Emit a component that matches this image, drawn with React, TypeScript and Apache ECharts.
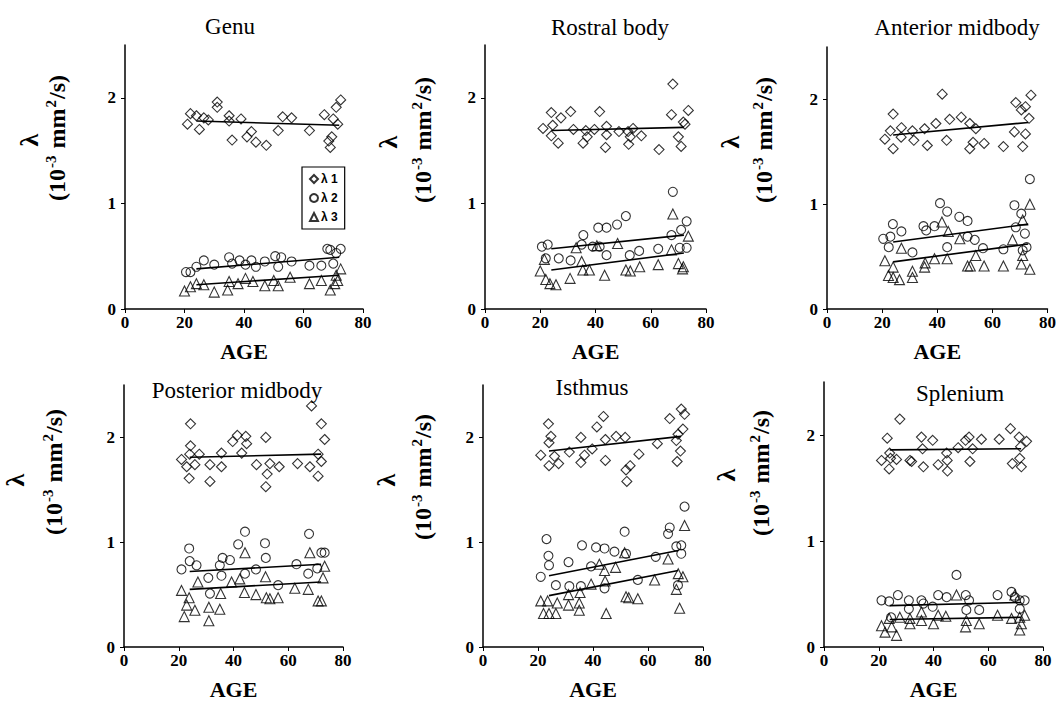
import React, { useEffect, useRef } from "react";
import * as echarts from "echarts";

// ---------- Data (age, λ in 10^-3 mm^2/s) ----------
const X_TICKS = [0, 20, 40, 60, 80];
const Y_TICKS = [0, 1, 2];
const LEGEND_NAMES = ["λ 1", "λ 2", "λ 3"];
const TITLES = ["Genu", "Rostral body", "Anterior midbody", "Posterior midbody", "Isthmus", "Splenium"];

const genuL1 = [[21,1.75],[22,1.85],[24,1.83],[25,1.7],[26.5,1.81],[28,1.79],[31,1.96],[31,1.91],[35,1.83],[35,1.78],[36,1.6],[39,1.8],[41,1.63],[42.5,1.68],[44,1.58],[47.5,1.55],[51.5,1.69],[53,1.82],[56,1.81],[62,1.69],[67,1.84],[68.5,1.59],[69,1.53],[69.5,1.63],[70,1.8],[71,1.91],[71.5,1.75],[72.5,1.98]];
const genuL2 = [[20.5,0.35],[22,0.35],[24,0.4],[26.5,0.46],[30,0.42],[35,0.49],[36,0.43],[38.5,0.46],[40.5,0.42],[42.5,0.46],[44,0.4],[47,0.45],[50.5,0.5],[51.5,0.4],[52.5,0.49],[56,0.45],[62,0.41],[66,0.41],[68,0.57],[69,0.56],[70,0.43],[71,0.53],[72.5,0.57]];
const genuL3 = [[20,0.17],[22,0.21],[24,0.24],[26.5,0.23],[30,0.16],[34.5,0.18],[35,0.26],[38,0.24],[40.5,0.29],[43,0.26],[47,0.22],[50,0.27],[51.5,0.22],[55.5,0.3],[62,0.24],[66,0.27],[69,0.18],[70.5,0.24],[71,0.32],[71.5,0.27],[72.5,0.38]];
const genuFit = [[[24,1.78],[72,1.74]],[[24,0.38],[72,0.49]],[[24,0.23],[72,0.32]]];

const rostralL1 = [[21,1.71],[24,1.86],[24,1.64],[24.5,1.74],[26.5,1.57],[27.5,1.81],[31,1.87],[32,1.7],[35.5,1.57],[36.5,1.69],[37,1.63],[39.6,1.7],[41.5,1.87],[43.6,1.53],[44,1.73],[44,1.65],[48.5,1.68],[51.8,1.68],[52,1.56],[52.6,1.63],[53.6,1.71],[56.6,1.64],[63,1.51],[67.5,1.84],[68,2.13],[70,1.63],[71,1.54],[71.8,1.77],[72.4,1.75],[73.6,1.88]];
const rostralL2 = [[20.6,0.59],[22,0.48],[22.7,0.61],[26.7,0.48],[31,0.46],[35,0.61],[35.6,0.7],[39,0.59],[41,0.77],[41.5,0.59],[44,0.77],[44,0.51],[47.8,0.8],[51,0.88],[52.4,0.51],[55.8,0.55],[62.7,0.57],[67.5,0.7],[68,1.11],[70.5,0.58],[71,0.75],[73,0.83],[73,0.58]];
const rostralL3 = [[20,0.36],[21.5,0.47],[22,0.28],[23.5,0.24],[25.7,0.23],[30.8,0.29],[33,0.58],[35,0.45],[35.4,0.37],[37.8,0.37],[40.5,0.6],[43.3,0.32],[48,0.62],[51,0.37],[52.6,0.36],[56,0.4],[62.7,0.42],[67.5,0.56],[68,0.9],[70,0.43],[71.5,0.38],[71.8,0.4],[73.6,0.69]];
const rostralFit = [[[24,1.69],[72,1.72]],[[24,0.57],[72,0.7]],[[24,0.37],[72,0.53]]];

const anteriorL1 = [[21,1.62],[23,1.7],[24,1.86],[24,1.53],[26.9,1.64],[27,1.73],[31,1.7],[31.5,1.61],[35.4,1.72],[36.4,1.56],[39.5,1.77],[41.8,2.05],[43.4,1.61],[44.5,1.81],[48.7,1.83],[51.8,1.77],[51.8,1.53],[53,1.59],[54,1.72],[57,1.58],[64,1.55],[68,1.69],[68.5,1.97],[70.5,1.9],[71,1.55],[72,1.93],[72,1.67],[73.3,1.82],[74,2.04]];
const anteriorL2 = [[20.4,0.67],[22.4,0.59],[23,0.69],[23.9,0.81],[27,0.74],[31,0.54],[35,0.79],[36,0.75],[39,0.79],[41,1.01],[43.6,0.93],[43.6,0.59],[48,0.88],[51,0.84],[51,0.69],[53.6,0.66],[56.6,0.58],[64,0.57],[68,0.99],[68.5,0.78],[70.5,0.91],[71,0.56],[71.8,0.72],[72.4,0.59],[73.6,1.24]];
const anteriorL3 = [[21,0.46],[22.3,0.32],[24,0.4],[24,0.3],[26.3,0.28],[27,0.58],[31,0.3],[31,0.36],[35.4,0.4],[35.6,0.44],[39,0.48],[41.7,0.83],[43.6,0.48],[44,0.74],[48.2,0.67],[51,0.41],[52,0.41],[54,0.51],[57,0.41],[64,0.41],[67.3,0.66],[70.5,0.43],[71,0.51],[71,0.85],[73.6,0.38],[73.6,1.0]];
const anteriorFit = [[[24,1.66],[73,1.78]],[[24,0.64],[73,0.81]],[[24,0.45],[73,0.62]]];

const posteriorL1 = [[21,1.79],[22.9,1.72],[23.8,1.61],[24,1.84],[24.3,2.13],[24.3,1.92],[25.9,1.74],[27.5,1.84],[31.4,1.74],[31.4,1.58],[35.6,1.85],[35.6,1.72],[39.7,1.96],[41.4,2.02],[43,1.85],[44.5,2.01],[44.8,1.94],[48.4,1.74],[51.8,2.0],[51.8,1.53],[52.3,1.65],[53.3,1.75],[56.7,1.72],[63.4,1.75],[67.9,1.72],[68.5,2.3],[70.9,1.63],[70.9,1.84],[72.1,2.13],[72.1,1.77],[73.3,1.98]];
const posteriorL2 = [[21,0.74],[23.8,0.94],[24,0.82],[26.5,0.78],[30.8,0.66],[31.4,0.51],[35,0.78],[35.6,0.68],[36,0.85],[38.7,0.83],[41.7,0.98],[44.2,1.1],[44.2,0.7],[48.2,0.74],[51.5,0.99],[51.8,0.85],[56.3,0.59],[63,0.79],[67.3,0.7],[67.6,1.08],[70.6,0.75],[72.1,0.9],[73.3,0.9]];
const posteriorL3 = [[21,0.54],[22,0.29],[22.9,0.4],[23.8,0.47],[25.9,0.35],[27,0.62],[31,0.38],[31,0.25],[35,0.36],[35.3,0.51],[39.3,0.62],[42.3,0.65],[44,0.52],[44.2,0.9],[48.2,0.5],[51.7,0.67],[52,0.47],[53.3,0.46],[56.3,0.47],[62.4,0.56],[67.3,0.55],[67.9,0.9],[70.9,0.44],[72.1,0.44],[72.7,0.66],[73.3,0.77]];
const posteriorFit = [[[24,1.81],[72,1.84]],[[24,0.72],[72,0.79]],[[24,0.55],[72,0.62]]];

const isthmusL1 = [[21,1.83],[23.8,2.13],[24,1.95],[24,1.73],[24.7,2.01],[26,1.82],[27.5,1.75],[31.4,1.86],[35.6,2.0],[35.6,1.76],[36.9,1.83],[39.7,1.89],[41.4,2.1],[43.8,2.2],[44.5,1.98],[44.5,1.78],[48.4,2.01],[51.7,2.0],[52,1.69],[52.3,1.58],[53.5,1.73],[56.7,1.84],[63.4,1.94],[67.9,2.18],[70.3,1.97],[70.6,1.77],[70.9,2.03],[71.8,1.87],[72.1,2.27],[72.7,2.08],[73.3,2.22]];
const isthmusL2 = [[21,0.67],[23.1,1.03],[23.8,0.87],[24,0.78],[26.5,0.59],[31.1,0.81],[31.4,0.58],[35.6,0.58],[36,0.97],[39.3,0.77],[41.1,0.95],[44.2,0.94],[44.2,0.56],[47.8,0.91],[51.5,1.1],[52,0.89],[56.3,0.64],[62.8,0.86],[67.3,1.08],[67.9,1.14],[70.3,0.96],[70.9,0.59],[72.1,0.97],[72.1,0.89],[73.3,1.34]];
const isthmusL3 = [[21,0.44],[22,0.32],[23.5,0.44],[24,0.32],[26.5,0.32],[27,0.42],[31.1,0.4],[31.1,0.5],[35,0.42],[35,0.35],[35.3,0.52],[39.3,0.6],[42.3,0.79],[44.2,0.73],[44.4,0.63],[44.8,0.32],[48.2,0.76],[51.5,0.9],[52,0.48],[53,0.47],[56.3,0.46],[62.4,0.64],[67.3,0.84],[70.3,0.55],[71,0.7],[71.5,0.37],[72.7,0.67],[73.3,1.16]];
const isthmusFit = [[[24,1.87],[72,2.01]],[[24,0.68],[71,0.92]],[[24,0.49],[71,0.73]]];

const spleniumL1 = [[21,1.76],[23.1,1.97],[23.8,1.68],[24,1.83],[24.3,1.78],[26.5,1.77],[27.7,2.15],[31.4,1.76],[32,1.75],[35.6,1.98],[36,1.87],[36.3,1.7],[39.7,1.95],[41.7,1.72],[44.8,1.83],[45,1.76],[45.1,1.66],[49,1.88],[51.7,1.95],[53,1.98],[53.3,1.75],[54.3,1.87],[57.5,1.96],[64,1.96],[68.1,2.06],[68.8,1.73],[71.3,1.98],[71.5,1.78],[71.8,1.89],[72.1,1.7],[74,1.94]];
const spleniumL2 = [[21,0.44],[23.8,0.43],[24.5,0.28],[27,0.49],[31,0.44],[31,0.36],[35.6,0.44],[36.3,0.41],[39.7,0.38],[41.7,0.49],[44.8,0.47],[48.4,0.68],[51.8,0.49],[52,0.35],[53,0.44],[56.7,0.35],[63.4,0.49],[68.5,0.52],[69.7,0.47],[71.5,0.44],[71.5,0.36],[73.3,0.44]];
const spleniumL3 = [[21,0.2],[22.3,0.14],[23.8,0.27],[24.7,0.19],[26.5,0.11],[27.7,0.28],[31.4,0.22],[31.4,0.27],[35.6,0.25],[35.6,0.33],[40,0.22],[41.7,0.3],[44.5,0.29],[48.4,0.49],[51.7,0.19],[52,0.25],[56.7,0.22],[63.4,0.3],[68.5,0.27],[69.7,0.49],[71.5,0.16],[71.5,0.28],[72.1,0.22],[73.3,0.3]];
const spleniumFit = [[[24,1.86],[72,1.87]],[[24,0.39],[72,0.42]],[[24,0.26],[72,0.28]]];

// ---------- Layout / style ----------
const SERIF = "'Liberation Serif', 'Times New Roman', serif";
const panels = [
  { title: TITLES[0], l: [genuL1, genuL2, genuL3], fit: genuFit, grid: { left: 125, top: 45, width: 238, height: 264 }, tp: [230, 26], lam: [29, 140], unit: [56, 138] },
  { title: TITLES[1], l: [rostralL1, rostralL2, rostralL3], fit: rostralFit, grid: { left: 485, top: 45, width: 221, height: 264 }, tp: [610, 27], lam: [388, 142], unit: [422, 140] },
  { title: TITLES[2], l: [anteriorL1, anteriorL2, anteriorL3], fit: anteriorFit, grid: { left: 827, top: 47, width: 221, height: 262 }, tp: [957, 27], lam: [730, 142], unit: [763, 140] },
  { title: TITLES[3], l: [posteriorL1, posteriorL2, posteriorL3], fit: posteriorFit, grid: { left: 124, top: 385, width: 219, height: 265 }, tp: [237, 390], lam: [15, 480], unit: [53, 472] },
  { title: TITLES[4], l: [isthmusL1, isthmusL2, isthmusL3], fit: isthmusFit, grid: { left: 483, top: 385, width: 220, height: 265 }, tp: [592, 387], lam: [386, 480], unit: [422, 477] },
  { title: TITLES[5], l: [spleniumL1, spleniumL2, spleniumL3], fit: spleniumFit, grid: { left: 824, top: 382, width: 219, height: 265 }, tp: [960, 393], lam: [726, 475], unit: [760, 473] },
];
const SYMBOLS = ["diamond", "circle", "triangle"];
const SYMBOL_SIZES = [10, 9, 10];

export default function App() {
  const ref = useRef<HTMLDivElement>(null);
  useEffect(() => {
    if (!ref.current) return;
    const chart = echarts.init(ref.current, undefined, { renderer: "svg" });
    const grid: any[] = [];
    const xAxis: any[] = [];
    const yAxis: any[] = [];
    const series: any[] = [];
    const graphic: any[] = [];
    panels.forEach((p, i) => {
      grid.push({ ...p.grid, containLabel: false });
      xAxis.push({
        gridIndex: i, type: "value", min: X_TICKS[0], max: X_TICKS[X_TICKS.length - 1], interval: 20,
        name: "AGE", nameLocation: "middle", nameGap: 31,
        nameTextStyle: { fontFamily: SERIF, fontWeight: "bold", fontSize: 22, color: "#000" },
        axisLine: { onZero: false, lineStyle: { color: "#000", width: 1.5 } },
        axisTick: { show: true, length: 4, lineStyle: { color: "#000" } },
        axisLabel: { fontFamily: SERIF, fontWeight: "bold", fontSize: 17, color: "#000", margin: 5 },
        splitLine: { show: false },
      });
      yAxis.push({
        gridIndex: i, type: "value", min: 0, max: 2.5, interval: 1,
        axisLine: { show: true, onZero: false, lineStyle: { color: "#000", width: 1.5 } },
        axisTick: { show: true, length: 4, customValues: Y_TICKS, lineStyle: { color: "#000" } },
        axisLabel: { fontFamily: SERIF, fontWeight: "bold", fontSize: 17, color: "#000", margin: 9, customValues: Y_TICKS },
        splitLine: { show: false },
      });
      p.l.forEach((d, k) => {
        series.push({
          type: "scatter", name: LEGEND_NAMES[k], xAxisIndex: i, yAxisIndex: i, data: d,
          symbol: SYMBOLS[k], symbolSize: SYMBOL_SIZES[k],
          itemStyle: { color: "rgba(255,255,255,0)", borderColor: "#000", borderWidth: 1.1 },
          z: 3,
        });
      });
      p.fit.forEach((f) => {
        series.push({
          type: "line", name: "fit", xAxisIndex: i, yAxisIndex: i, data: f,
          symbol: "none", lineStyle: { color: "#000", width: 1.6 }, z: 4, silent: true,
        });
      });
      graphic.push({
        type: "text", x: p.tp[0], y: p.tp[1], z: 10,
        style: { text: p.title, font: `normal 23px ${SERIF}`, fill: "#000", textAlign: "center", textVerticalAlign: "middle" },
      });
      graphic.push({
        type: "text", x: p.lam[0], y: p.lam[1], rotation: Math.PI / 2,
        style: { text: "λ", font: `bold 26px ${SERIF}`, fill: "#000", textAlign: "center", textVerticalAlign: "middle" },
      });
      graphic.push({
        type: "text", x: p.unit[0], y: p.unit[1], rotation: Math.PI / 2,
        style: {
          text: "{n|(10}{s|-3}{n| mm}{s|2}{n|/s)}",
          fill: "#000", textAlign: "center", textVerticalAlign: "middle",
          rich: {
            n: { fontFamily: SERIF, fontWeight: "bold", fontSize: 24, lineHeight: 26, verticalAlign: "bottom", fill: "#000" },
            s: { fontFamily: SERIF, fontWeight: "bold", fontSize: 15, lineHeight: 26, verticalAlign: "top", fill: "#000", padding: [0, 1, 0, 1] },
          },
        },
      });
    });
    chart.setOption({
      animation: false,
      backgroundColor: "#fff",
      grid, xAxis, yAxis, series, graphic,
      legend: {
        data: LEGEND_NAMES, orient: "vertical", left: 302, top: 167,
        borderColor: "#000", borderWidth: 1.2, padding: [6, 7, 6, 7], itemGap: 7,
        itemWidth: 8, itemHeight: 8, selectedMode: false,
        textStyle: { fontFamily: "'Liberation Sans', Arial, sans-serif", fontWeight: "bold", fontSize: 12, color: "#000", padding: [0, 0, 0, -2] },
      },
    });
    return () => chart.dispose();
  }, []);
  return <div ref={ref} style={{ position: "absolute", left: 0, top: 0, width: 1059, height: 701 }} />;
}
